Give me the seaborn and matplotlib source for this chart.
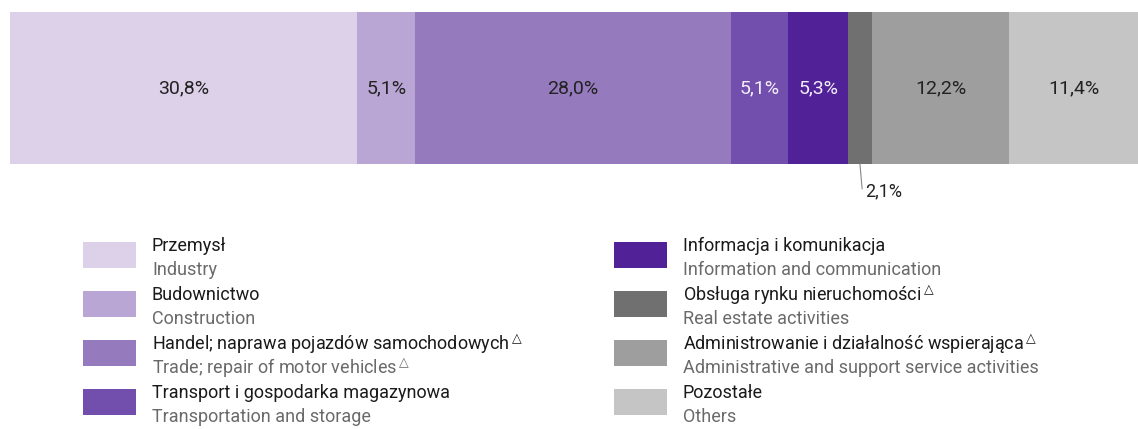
import numpy as np
import pandas as pd
import matplotlib.pyplot as plt
from matplotlib.patches import Rectangle
import seaborn as sns

# data
sectors_pl = ['Przemysł', 'Budownictwo', 'Handel; naprawa pojazdów samochodowych',
              'Transport i gospodarka magazynowa', 'Informacja i komunikacja',
              'Obsługa rynku nieruchomości', 'Administrowanie i działalność wspierająca',
              'Pozostałe']
sectors_en = ['Industry', 'Construction', 'Trade; repair of motor vehicles',
              'Transportation and storage', 'Information and communication',
              'Real estate activities', 'Administrative and support service activities',
              'Others']
shares = [30.8, 5.1, 28.0, 5.1, 5.3, 2.1, 12.2, 11.4]
flag_pl = [False, False, True, False, False, True, True, False]
flag_en = [False, False, True, False, False, False, False, False]
colors = ['#dcd1e8', '#baa6d4', '#957bbe', '#724fac', '#512197',
          '#707070', '#9d9e9d', '#c4c5c4']
label_colors = ['#222222', '#222222', '#222222', '#f2eefa', '#f2eefa',
                '#222222', '#222222', '#222222']

df = pd.DataFrame({'pl': sectors_pl, 'en': sectors_en, 'share': shares})
df['cum'] = df['share'].cumsum()
df['mid'] = df['cum'] - df['share'] / 2
df['row'] = 'all'

sns.set_style('white')
plt.rcParams['font.family'] = ['Roboto', 'DejaVu Sans']

W, H = 1138, 429
fig = plt.figure(figsize=(W / 100, H / 100), dpi=100)

# stacked bar: draw cumulative totals from largest to smallest
ax = fig.add_axes([10 / W, 1 - 164 / H, 1128 / W, 152 / H])
for i in reversed(range(len(df))):
    sns.barplot(data=df.iloc[[i]], x='cum', y='row', color=colors[i],
                orient='h', width=1, saturation=1, ax=ax, linewidth=0)
ax.set_xlim(0, df['cum'].iloc[-1])
ax.set_ylim(0.5, -0.5)
ax.axis('off')

for i, r in df.iterrows():
    txt = f"{r['share']:.1f}%".replace('.', ',')
    if r['share'] < 3:
        ax.annotate(txt, xy=(r['mid'], 0.5), xytext=(4, -20), textcoords='offset points',
                    ha='left', va='center', fontsize=13, color='#222222',
                    arrowprops=dict(arrowstyle='-', color='#888888', lw=0.8,
                                    shrinkA=0, shrinkB=0,
                                    connectionstyle='angle,angleA=180,angleB=95,rad=4'))
    else:
        ax.text(r['mid'], 0, txt, ha='center', va='center', fontsize=14,
                color=label_colors[i])

# legend drawn in pixel coordinates
lg = fig.add_axes([0, 0, 1, 1])
lg.set_xlim(0, W)
lg.set_ylim(H, 0)
lg.axis('off')
col_x = [83, 614]
for i in range(len(df)):
    c = i // 4
    k = i % 4
    y0 = 242 + k * 49
    x0 = col_x[c]
    lg.add_patch(Rectangle((x0, y0), 53, 26, color=colors[i], lw=0))
    pl = sectors_pl[i] + ('$^{\\triangle}$' if flag_pl[i] else '')
    en = sectors_en[i] + ('$^{\\triangle}$' if flag_en[i] else '')
    lg.text(x0 + 69, y0 + 4, pl, ha='left', va='center', fontsize=13, color='#1a1a1a')
    lg.text(x0 + 69, y0 + 28, en, ha='left', va='center', fontsize=13, color='#6a6a6a')

fig.savefig('out.png', dpi=100)
